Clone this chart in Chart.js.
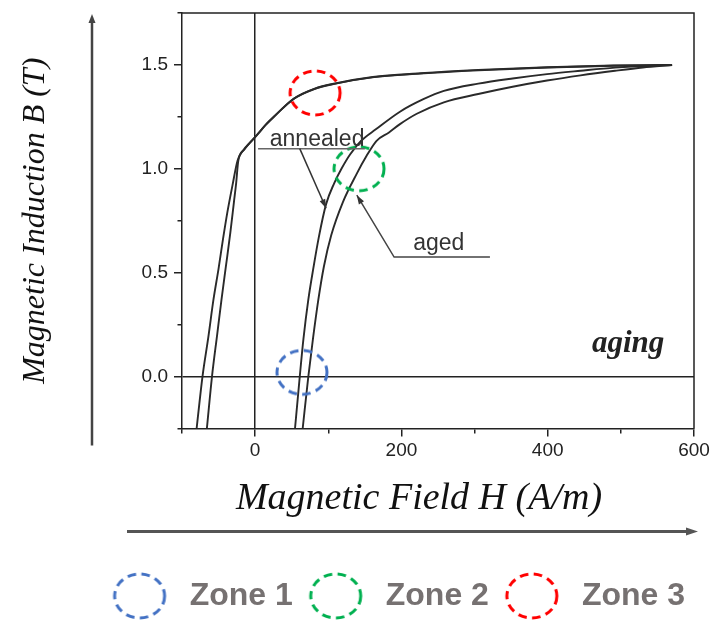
<!DOCTYPE html>
<html>
<head>
<meta charset="utf-8">
<script src="https://cdn.jsdelivr.net/npm/chart.js@4.4.0/dist/chart.umd.min.js"></script>
<style>
  html, body { margin: 0; padding: 0; background: #fff; }
  canvas { display: block; }
</style>
</head>
<body>
<canvas id="bh-chart" width="715" height="622"></canvas>
<script>
// B-H 曲線 (H: A/m, B: T)
const agedDownH = [-80, -72, -64, -57, -50, -44, -38, -31, -24, -16, -6, 3, 14, 27, 52, 80, 110, 160, 225, 305, 400, 490, 570];
const agedDownB = [-0.25, 0, 0.19, 0.37, 0.52, 0.66, 0.79, 0.92, 1.04, 1.09, 1.13, 1.165, 1.21, 1.255, 1.335, 1.383, 1.41, 1.44, 1.458, 1.474, 1.488, 1.496, 1.5];

const annealedDownH = [-66, -59, -52, -46, -40, -34, -29, -26, -23, -15, -5, 4, 15, 28, 53, 81, 111, 161, 226, 305, 400, 490, 570];
const annealedDownB = [-0.25, 0, 0.2, 0.37, 0.53, 0.69, 0.84, 0.93, 1.04, 1.092, 1.134, 1.169, 1.214, 1.259, 1.338, 1.385, 1.412, 1.442, 1.46, 1.476, 1.489, 1.497, 1.5];

const annealedUpH = [54.5, 61, 66, 72.7, 80, 87, 97, 108, 118, 130, 145, 165, 198, 230, 258, 305, 352, 399, 445, 492, 530, 570];
const annealedUpB = [-0.25, 0, 0.18, 0.37, 0.53, 0.67, 0.83, 0.93, 1.0, 1.07, 1.135, 1.19, 1.275, 1.335, 1.375, 1.41, 1.435, 1.456, 1.472, 1.487, 1.495, 1.5];

const agedUpH = [65, 72.7, 79, 86.4, 94, 104, 120, 139, 152, 166, 183, 198, 221, 258, 305, 352, 399, 445, 492, 530, 570];
const agedUpB = [-0.25, 0, 0.18, 0.37, 0.53, 0.68, 0.84, 0.977, 1.06, 1.135, 1.175, 1.215, 1.265, 1.32, 1.36, 1.395, 1.425, 1.45, 1.472, 1.488, 1.5];

// ゾーン（破線の円）
const zoneLabels = ['Zone 1', 'Zone 2', 'Zone 3'];
const zoneH = [64, 142, 82];
const zoneB = [0.02, 1.0, 1.365];
const zoneColors = ['#4472C4', '#00B050', '#FF0000'];

// 軸
const xMin = -100, xMax = 600, xStep = 100, xLabelStep = 200;
const yMin = -0.25, yMax = 1.75, yStep = 0.25, yLabelStep = 0.5;

const toPoints = (h, b) => h.map((v, i) => ({x: v, y: b[i]}));

// 破線の楕円を描いた画像（点のスタイルとして使う）
function ringImage(color) {
    const c = document.createElement('canvas');
    c.width = 56;
    c.height = 50;
    const g = c.getContext('2d');
    g.strokeStyle = color;
    g.lineWidth = 3;
    g.setLineDash([8.5, 5.5]);
    g.beginPath();
    g.ellipse(28, 25, 25, 22, 0, 0, Math.PI * 2);
    g.stroke();
    return c;
}

const zoneDatasets = zoneLabels.map((label, i) => ({
    label: label,
    data: [{x: zoneH[i], y: zoneB[i]}],
    pointStyle: ringImage(zoneColors[i]),
    pointRadius: 25,
    borderColor: zoneColors[i],
    backgroundColor: 'transparent',
    showLine: false
}));

function curve(label, h, b) {
    return {
        label: label,
        data: toPoints(h, b),
        showLine: true,
        pointRadius: 0,
        borderColor: '#2a2a2a',
        borderWidth: 1.9,
        cubicInterpolationMode: 'monotone'
    };
}

// 注記・枠・矢印
const annotations = {
    id: 'annotations',
    afterDatasetsDraw(chart) {
        const {ctx, chartArea: a, scales: {x, y}} = chart;
        const px = v => x.getPixelForValue(v);
        const py = v => y.getPixelForValue(v);

        ctx.save();
        // 上と右の枠
        ctx.strokeStyle = '#222';
        ctx.lineWidth = 1.5;
        ctx.beginPath();
        ctx.moveTo(a.left, a.top);
        ctx.lineTo(a.right, a.top);
        ctx.lineTo(a.right, a.bottom);
        ctx.stroke();

        const arrowHead = (x1, y1, x2, y2, len, half) => {
            const ang = Math.atan2(y2 - y1, x2 - x1);
            ctx.beginPath();
            ctx.moveTo(x2, y2);
            ctx.lineTo(x2 - len * Math.cos(ang) + half * Math.sin(ang), y2 - len * Math.sin(ang) - half * Math.cos(ang));
            ctx.lineTo(x2 - len * Math.cos(ang) - half * Math.sin(ang), y2 - len * Math.sin(ang) + half * Math.cos(ang));
            ctx.closePath();
            ctx.fill();
        };
        const leader = (pts) => {
            ctx.beginPath();
            ctx.moveTo(px(pts[0][0]), py(pts[0][1]));
            for (let i = 1; i < pts.length; i++) ctx.lineTo(px(pts[i][0]), py(pts[i][1]));
            ctx.stroke();
        };

        // annealed
        ctx.strokeStyle = '#666';
        ctx.lineWidth = 1.5;
        leader([[4, 1.097], [150, 1.097]]);
        ctx.strokeStyle = '#333';
        ctx.fillStyle = '#333';
        leader([[61, 1.097], [97, 0.81]]);
        arrowHead(px(61), py(1.097), px(97), py(0.81), 9, 3);

        // aged
        ctx.strokeStyle = '#444';
        leader([[321, 0.575], [190, 0.575], [139, 0.873]]);
        arrowHead(px(190), py(0.575), px(139), py(0.873), 9, 3);

        ctx.font = '23px "Liberation Sans", Arial, sans-serif';
        ctx.fillStyle = '#333';
        ctx.textAlign = 'left';
        ctx.textBaseline = 'alphabetic';
        ctx.fillText('annealed', px(20), py(1.11));
        ctx.fillText('aged', px(216), py(0.608));

        ctx.font = 'italic bold 31px "Liberation Serif", "Times New Roman", serif';
        ctx.fillStyle = '#222';
        ctx.textAlign = 'center';
        ctx.fillText('aging', px(510), py(0.118));
        ctx.restore();
    },
    afterDraw(chart) {
        const {ctx, chartArea: a} = chart;
        ctx.save();
        ctx.strokeStyle = '#444';
        ctx.fillStyle = '#444';
        ctx.lineWidth = 2.5;
        // 縦の矢印
        const vx = a.left - 90;
        ctx.beginPath();
        ctx.moveTo(vx, a.bottom + 17);
        ctx.lineTo(vx, a.top + 8);
        ctx.stroke();
        ctx.beginPath();
        ctx.moveTo(vx, a.top + 1);
        ctx.lineTo(vx - 3.5, a.top + 10);
        ctx.lineTo(vx + 3.5, a.top + 10);
        ctx.closePath();
        ctx.fill();
        // 横の矢印
        ctx.strokeStyle = '#555';
        ctx.fillStyle = '#555';
        ctx.lineWidth = 3;
        const hy = a.bottom + 103;
        ctx.beginPath();
        ctx.moveTo(a.left - 55, hy);
        ctx.lineTo(a.right - 6, hy);
        ctx.stroke();
        ctx.beginPath();
        ctx.moveTo(a.right + 4, hy);
        ctx.lineTo(a.right - 8, hy - 4);
        ctx.lineTo(a.right - 8, hy + 4);
        ctx.closePath();
        ctx.fill();
        ctx.restore();
    }
};

const tickFont = {family: '"Liberation Sans", Arial, sans-serif', size: 19};
const zeroGrid = ctx => (ctx.tick && ctx.tick.value === 0) ? '#222' : 'rgba(0,0,0,0)';

new Chart(document.getElementById('bh-chart').getContext('2d'), {
    type: 'scatter',
    data: {
        datasets: [
            ...zoneDatasets,
            curve('aged (down)', agedDownH, agedDownB),
            curve('annealed (down)', annealedDownH, annealedDownB),
            curve('annealed (up)', annealedUpH, annealedUpB),
            curve('aged (up)', agedUpH, agedUpB)
        ]
    },
    options: {
        responsive: false,
        animation: false,
        layout: {autoPadding: false, padding: {top: 13, right: 21, left: 0, bottom: 0}},
        plugins: {
            tooltip: {enabled: false},
            legend: {
                position: 'bottom',
                align: 'end',
                labels: {
                    filter: item => item.datasetIndex < zoneLabels.length,
                    usePointStyle: true,
                    pointStyleWidth: 68,
                    padding: 9,
                    color: '#767171',
                    font: {family: '"Liberation Sans", Arial, sans-serif', size: 32, weight: 'bold'}
                }
            }
        },
        scales: {
            x: {
                type: 'linear',
                min: xMin,
                max: xMax,
                ticks: {
                    stepSize: xStep,
                    autoSkip: false,
                    maxRotation: 0,
                    padding: 3,
                    color: '#222',
                    font: tickFont,
                    callback: v => (v % xLabelStep === 0) ? String(v) : ''
                },
                grid: {
                    color: zeroGrid,
                    lineWidth: 1.5,
                    tickColor: '#222',
                    tickWidth: 1.5,
                    tickLength: 8,
                    tickBorderDash: ctx => (ctx.tick && ctx.tick.value % xLabelStep !== 0) ? [4, 20] : []
                },
                border: {display: true, color: '#222', width: 1.5},
                title: {
                    display: true,
                    text: 'Magnetic Field H (A/m)\u2003',
                    color: '#111',
                    font: {family: '"Liberation Serif", "Times New Roman", serif', style: 'italic', size: 38},
                    padding: {top: 0, bottom: 49}
                },
                afterFit: s => {
                    s.height = 142.5;
                    s.paddingLeft = 0;
                    s.paddingRight = 0;
                }
            },
            y: {
                type: 'linear',
                min: yMin,
                max: yMax,
                ticks: {
                    stepSize: yStep,
                    autoSkip: false,
                    padding: 6,
                    color: '#222',
                    font: tickFont,
                    callback: v => (Math.abs(v % yLabelStep) < 1e-9) ? v.toFixed(1) : ''
                },
                grid: {
                    color: zeroGrid,
                    lineWidth: 1.5,
                    tickColor: '#222',
                    tickWidth: 1.5,
                    tickLength: 8,
                    tickBorderDash: ctx => (ctx.tick && Math.abs(ctx.tick.value % yLabelStep) > 1e-9) ? [0, 3.5, 6, 20] : []
                },
                border: {display: true, color: '#222', width: 1.5},
                title: {
                    display: true,
                    text: 'Magnetic Induction B (T)',
                    color: '#111',
                    font: {family: '"Liberation Serif", "Times New Roman", serif', style: 'italic', size: 32},
                    padding: {top: 16, bottom: 0}
                },
                afterFit: s => {
                    s.width = 182;
                    s.paddingTop = 0;
                    s.paddingBottom = 0;
                }
            }
        }
    },
    plugins: [annotations]
});
</script>
</body>
</html>
